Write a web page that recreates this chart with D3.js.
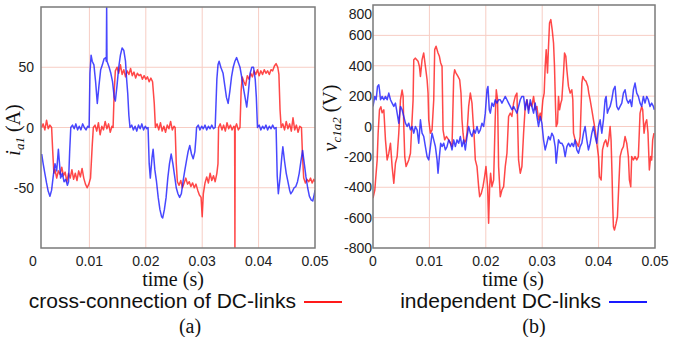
<!DOCTYPE html>
<html>
<head>
<meta charset="utf-8">
<script src="https://cdn.jsdelivr.net/npm/d3@7"></script>
<style>
  body { margin: 0; background: #fff; }
  svg { display: block; }
</style>
</head>
<body>
<div id="chart"></div>
<script>
// two panels: phase current i_a1 and capacitor voltage difference v_c1a2, 0 - 0.05 s
// samples are [time in ms, value]

const timeTicks = [0, 0.01, 0.02, 0.03, 0.04, 0.05];
const currentTicks = [-50, 0, 50];
const voltageTicks = [-800, -600, -400, -200, 0, 200, 400, 600, 800];
const seriesNames = ["cross-connection of DC-links", "independent DC-links"];

// (a) i_a1, cross-connection of DC-links (red)
const iaCross = [
  [1.54,0],[1.8,3],[2.1,-2],[2.4,6],[2.7,-1],[3.0,2],[3.3,0],[3.5,-20],[3.7,-38],[3.9,-35],
  [4.2,-42],[4.5,-36],[4.8,-39],[5.1,-33],[5.4,-40],[5.7,-37],[6.0,-45],[6.3,-38],[6.6,-42],[6.9,-35],
  [7.2,-43],[7.5,-38],[7.8,-44],[8.1,-36],[8.4,-41],[8.7,-34],[9.0,-42],[9.3,-47],[9.6,-50],[9.9,-47],
  [10.2,-42],[10.5,-15],[10.7,0],[11.0,2],[11.3,-3],[11.6,4],[11.9,-6],[12.2,1],[12.5,-2],[12.8,5],
  [13.1,-1],[13.4,3],[13.7,-4],[14.0,1],[14.2,0],[14.4,30],[14.6,47],[14.9,50],[15.2,45],[15.5,52],
  [15.8,44],[16.1,48],[16.4,42],[16.7,47],[17.0,44],[17.3,49],[17.6,43],[17.9,46],[18.2,41],[18.5,45],
  [18.8,43],[19.1,44],[19.4,40],[19.7,43],[20.0,40],[20.3,42],[20.6,38],[20.9,41],[21.2,38],[21.5,20],
  [21.7,0],[22.0,3],[22.3,-2],[22.6,4],[22.9,-3],[23.2,1],[23.5,-4],[23.8,2],[24.1,-1],[24.4,5],
  [24.7,-2],[25.0,1],[25.2,0],[25.4,-30],[25.6,-45],[25.9,-48],[26.2,-44],[26.5,-50],[26.8,-46],[27.1,-42],
  [27.4,-47],[27.7,-45],[28.0,-49],[28.3,-46],[28.6,-50],[28.9,-47],[29.2,-52],[29.5,-56],[29.8,-58],[30.0,-74],
  [30.2,-55],[30.5,-46],[30.8,-41],[31.1,-46],[31.4,-38],[31.7,-44],[32.0,-40],[32.3,-45],[32.6,-38],[32.8,-30],
  [32.9,0],[33.2,3],[33.5,-2],[33.8,2],[34.1,-3],[34.4,4],[34.7,-1],[35.0,2],[35.3,-2],[35.6,1],
  [35.75,0],[35.8,-100],[35.85,0],[36.1,3],[36.4,-2],[36.7,0],[36.9,30],[37.1,42],[37.4,38],[37.7,35],
  [38.0,43],[38.3,40],[38.6,45],[38.9,42],[39.2,47],[39.5,44],[39.8,48],[40.1,43],[40.4,47],[40.7,44],
  [41.0,48],[41.3,45],[41.6,47],[41.9,44],[42.2,48],[42.5,47],[42.8,51],[43.1,53],[43.4,50],[43.6,44],
  [43.8,15],[44.0,0],[44.3,3],[44.6,-2],[44.9,5],[45.2,-1],[45.5,3],[45.8,-3],[46.1,8],[46.4,-2],
  [46.7,2],[47.0,-4],[47.3,1],[47.6,0],[47.8,-25],[48.0,-42],[48.3,-46],[48.6,-43],[48.9,-45],[49.2,-42],
  [49.5,-46],[49.8,-43],[50.0,-45]
];

// (a) i_a1, independent DC-links (blue)
const iaIndep = [
  [1.54,-22],[1.8,-30],[2.1,-38],[2.4,-46],[2.7,-53],[3.0,-57],[3.3,-52],[3.6,-40],[3.9,-30],[4.2,-36],
  [4.5,-18],[4.7,-30],[4.9,-42],[5.2,-38],[5.5,-45],[5.8,-43],[6.1,-48],[6.3,-45],[6.5,-20],[6.7,0],
  [7.0,2],[7.3,-1],[7.6,3],[7.9,-2],[8.2,1],[8.5,-2],[8.8,3],[9.1,0],[9.4,-2],[9.7,1],
  [9.95,0],[10.1,45],[10.3,60],[10.5,55],[10.8,52],[11.1,38],[11.4,20],[11.7,35],[12.0,48],[12.3,52],
  [12.6,57],[12.9,58],[13.0,55],[13.06,100],[13.12,55],[13.5,50],[13.8,45],[14.1,38],[14.4,25],[14.6,22],
  [14.9,35],[15.2,50],[15.5,60],[15.8,66],[16.1,64],[16.4,55],[16.6,40],[16.8,28],[17.0,10],[17.2,0],
  [17.5,2],[17.8,-2],[18.1,1],[18.4,-3],[18.7,2],[19.0,-1],[19.3,3],[19.6,-2],[19.9,1],[20.2,-1],
  [20.4,0],[20.6,-30],[20.8,-42],[21.1,-25],[21.3,-18],[21.6,-35],[21.9,-45],[22.2,-58],[22.5,-68],[22.8,-74],
  [23.0,-75],[23.3,-68],[23.6,-58],[23.9,-42],[24.2,-30],[24.5,-22],[24.8,-30],[25.1,-40],[25.4,-50],[25.7,-55],
  [26.0,-58],[26.3,-55],[26.6,-45],[26.9,-36],[27.2,-28],[27.5,-20],[27.8,-15],[28.1,-22],[28.4,-26],[28.7,-20],
  [28.9,-8],[29.0,0],[29.3,2],[29.6,-2],[29.9,1],[30.2,-1],[30.5,2],[30.8,-2],[31.1,1],[31.4,-1],
  [31.7,2],[32.0,-1],[32.3,0],[32.6,40],[32.8,52],[33.0,55],[33.3,50],[33.7,45],[34.0,35],[34.3,25],
  [34.6,20],[34.9,30],[35.2,42],[35.5,50],[35.8,55],[36.1,58],[36.4,54],[36.7,50],[37.0,42],[37.3,33],
  [37.6,25],[37.9,17],[38.2,30],[38.5,45],[38.8,50],[39.1,50],[39.4,40],[39.6,25],[39.8,0],[40.1,2],
  [40.4,-2],[40.7,1],[41.0,-1],[41.3,2],[41.6,-2],[41.9,1],[42.2,-1],[42.5,2],[42.8,-1],[43.1,0],
  [43.3,-40],[43.5,-55],[43.8,-42],[44.1,-25],[44.3,-16],[44.6,-28],[44.9,-38],[45.2,-45],[45.5,-52],[45.7,-55],
  [46.0,-53],[46.3,-50],[46.6,-49],[46.9,-45],[47.2,-38],[47.5,-28],[47.8,-19],[48.1,-30],[48.4,-41],[48.7,-50],
  [49.0,-57],[49.3,-60],[49.6,-61],[49.9,-55],[50.0,-52]
];

// (b) v_c1a2, cross-connection of DC-links (red)
const vcCross = [
  [0,-472],[0.32,-418],[0.74,-220],[0.91,-44],[1.15,110],[1.39,130],[1.62,90],[1.92,110],[2.21,-88],[2.51,-220],
  [2.8,-176],[3.1,-110],[3.39,-264],[3.69,-374],[3.98,-242],[4.28,-198],[4.57,-44],[4.87,176],[5.16,240],[5.34,198],
  [5.46,0],[5.63,-198],[5.87,-264],[6.34,-220],[6.64,-176],[6.93,44],[7.11,176],[7.23,440],[7.52,450],[7.99,430],
  [8.23,396],[8.41,330],[8.7,440],[8.99,484],[9.29,396],[9.59,308],[9.76,220],[9.88,44],[10.18,-44],[10.47,-22],
  [10.77,176],[10.94,506],[11.18,528],[11.53,484],[11.77,462],[12.0,418],[12.24,396],[12.42,-22],[12.71,-88],[13.01,-66],
  [13.42,-88],[13.72,-110],[14.01,-132],[14.31,330],[14.48,374],[14.72,352],[15.07,330],[15.37,308],[15.6,220],[15.78,44],
  [15.96,-44],[16.19,-110],[16.49,-88],[16.67,-44],[16.96,132],[17.26,220],[17.55,154],[17.73,44],[17.91,-44],[18.14,-220],
  [18.44,-264],[18.73,-396],[18.91,-462],[19.2,-440],[19.5,-396],[19.79,-330],[20.03,-264],[20.32,-396],[20.5,-637],[20.68,-396],
  [20.85,-308],[21.09,-396],[21.39,-352],[21.68,66],[21.86,242],[22.09,176],[22.27,-264],[22.57,-462],[22.86,-418],[23.16,-396],
  [23.45,-264],[23.75,-176],[24.04,66],[24.34,88],[24.63,66],[24.93,154],[25.22,198],[25.52,220],[25.81,-220],[26.11,-308],
  [26.4,-264],[26.7,-44],[26.99,132],[27.29,176],[27.58,110],[27.88,154],[28.17,132],[28.47,198],[28.76,110],[29.06,132],
  [29.35,44],[29.65,88],[29.82,44],[30.12,176],[30.35,220],[30.53,396],[30.71,506],[30.94,352],[31.12,528],[31.3,682],
  [31.53,704],[31.77,638],[32.01,550],[32.18,396],[32.36,132],[32.48,0],[32.71,22],[32.89,198],[33.07,110],[33.3,154],
  [33.48,176],[33.78,352],[33.96,484],[34.19,462],[34.37,374],[34.66,264],[34.96,220],[35.25,242],[35.43,176],[35.55,-44],
  [35.84,-88],[36.14,-110],[36.43,-132],[36.73,-66],[37.03,286],[37.2,330],[37.49,308],[37.79,297],[38.09,264],[38.26,220],
  [38.5,176],[38.8,110],[39.09,44],[39.39,-22],[39.68,-110],[39.98,-198],[40.15,-330],[40.45,-352],[40.69,-154],[40.97,-110],
  [41.27,-88],[41.56,-132],[41.8,-88],[42.04,0],[42.21,-88],[42.39,-330],[42.51,-528],[42.63,-660],[42.81,-682],[43.1,-638],
  [43.34,-594],[43.57,-396],[43.81,-198],[44.11,-154],[44.4,-132],[44.69,-66],[44.99,-110],[45.28,-198],[45.46,-352],[45.7,-396],
  [45.87,-198],[46.17,-220],[46.46,-198],[46.76,-220],[47.05,-198],[47.35,88],[47.64,132],[47.82,110],[48.06,-44],[48.29,22],
  [48.53,44],[48.76,-44],[49.0,-286],[49.23,-198],[49.41,-220],[49.59,-88],[49.82,-44]
];

// (b) v_c1a2, independent DC-links (blue)
const vcIndep = [
  [0,132],[0.32,198],[0.56,176],[0.8,264],[1.03,275],[1.15,242],[1.33,176],[1.62,198],[1.92,176],[2.21,198],
  [2.51,176],[2.8,220],[3.1,176],[3.39,154],[3.69,132],[3.98,154],[4.28,88],[4.57,22],[4.87,132],[5.16,110],
  [5.46,66],[5.75,22],[6.05,0],[6.34,22],[6.64,-22],[6.93,0],[7.23,-44],[7.52,0],[7.82,-22],[8.11,-110],
  [8.41,44],[8.7,-44],[9.0,-66],[9.29,-132],[9.59,-198],[9.88,-220],[10.18,-132],[10.47,-44],[10.77,-88],[11.06,-132],
  [11.36,-220],[11.53,-308],[11.77,-198],[12.0,-110],[12.24,-132],[12.54,-110],[12.83,-154],[13.13,-132],[13.42,-88],[13.72,-110],
  [14.01,-154],[14.31,-88],[14.6,-132],[14.9,-88],[15.19,-110],[15.49,-66],[15.78,-132],[16.08,-88],[16.37,-154],[16.67,-66],
  [16.96,0],[17.26,-44],[17.55,-66],[17.85,-22],[18.14,-44],[18.44,0],[18.73,-44],[19.03,-22],[19.32,22],[19.62,0],
  [19.91,88],[20.21,242],[20.38,264],[20.62,110],[20.8,88],[21.09,154],[21.39,132],[21.68,176],[21.98,154],[22.27,176],
  [22.57,176],[22.86,154],[23.16,176],[23.45,198],[23.75,176],[24.04,154],[24.34,132],[24.63,110],[24.93,132],[25.22,110],
  [25.52,88],[25.81,132],[26.11,176],[26.4,198],[26.7,198],[26.99,110],[27.29,176],[27.58,88],[27.88,176],[28.17,132],
  [28.47,88],[28.76,154],[29.06,66],[29.35,0],[29.65,66],[29.94,22],[30.24,-88],[30.53,-154],[30.83,-110],[31.12,-66],
  [31.42,-88],[31.71,-44],[32.01,-66],[32.3,-132],[32.48,-242],[32.71,-154],[32.89,-88],[33.19,-110],[33.48,-110],[33.78,-132],
  [34.07,-198],[34.37,-132],[34.66,-110],[34.96,-132],[35.25,-110],[35.55,-132],[35.84,-88],[36.14,-154],[36.43,-176],[36.73,-132],
  [37.03,-110],[37.32,-44],[37.61,0],[37.91,-88],[38.2,-154],[38.5,-110],[38.8,-44],[39.09,0],[39.39,-66],[39.68,-110],
  [39.98,0],[40.27,44],[40.57,-44],[40.86,44],[41.15,176],[41.33,198],[41.56,88],[41.74,110],[42.04,132],[42.33,176],
  [42.63,242],[42.92,264],[43.22,132],[43.51,110],[43.81,132],[44.11,154],[44.4,220],[44.69,242],[44.99,176],[45.28,154],
  [45.58,176],[45.87,132],[46.17,242],[46.46,286],[46.76,220],[47.05,198],[47.35,154],[47.64,132],[47.94,198],[48.23,154],
  [48.53,198],[48.82,176],[49.12,132],[49.41,154],[49.71,132],[49.88,110]
];

function drawCharts() {
    const W = 678, H = 337;
    const redColor = "#ff1a1a", blueColor = "#1a1aff";
    const gridColor = "#f7cdc4";

    const svg = d3.select("#chart").append("svg")
        .attr("width", W)
        .attr("height", H);

    // one panel = frame, grid, tick labels, two traces
    function panel(opts) {
        const x = d3.scaleLinear().domain([0, 0.05]).range(opts.xRange);
        const y = d3.scaleLinear().domain(opts.yDomain).range(opts.yRange);
        const left = opts.frameLeft, right = opts.xRange[1];
        const top = opts.yRange[1], bottom = opts.yRange[0];
        const g = svg.append("g");

        // grid
        g.selectAll(".vgrid").data(timeTicks.slice(1, -1)).enter().append("line")
            .attr("x1", d => x(d)).attr("x2", d => x(d))
            .attr("y1", top).attr("y2", bottom)
            .attr("stroke", gridColor).attr("stroke-width", 1);
        g.selectAll(".hgrid").data(opts.gridValues).enter().append("line")
            .attr("x1", left).attr("x2", right)
            .attr("y1", d => y(d)).attr("y2", d => y(d))
            .attr("stroke", gridColor).attr("stroke-width", 1);

        // traces
        const clipId = opts.id + "-clip";
        g.append("clipPath").attr("id", clipId).append("rect")
            .attr("x", left).attr("y", top)
            .attr("width", right - left).attr("height", bottom - top);

        const line = d3.line()
            .x(d => x(d[0] / 1000))
            .y(d => y(d[1]));

        g.append("path").datum(opts.red)
            .attr("clip-path", `url(#${clipId})`)
            .attr("fill", "none").attr("stroke", redColor)
            .attr("stroke-width", 1.5).attr("stroke-opacity", 0.8)
            .attr("stroke-linejoin", "round")
            .attr("d", line);
        g.append("path").datum(opts.blue)
            .attr("clip-path", `url(#${clipId})`)
            .attr("fill", "none").attr("stroke", blueColor)
            .attr("stroke-width", 1.5).attr("stroke-opacity", 0.8)
            .attr("stroke-linejoin", "round")
            .attr("d", line);

        // frame
        g.append("rect")
            .attr("x", left).attr("y", top)
            .attr("width", right - left).attr("height", bottom - top)
            .attr("fill", "none").attr("stroke", "#7a7a7a").attr("stroke-width", 1.5);

        // tick labels
        g.selectAll(".xt").data(timeTicks).enter().append("text")
            .attr("x", d => x(d)).attr("y", 266)
            .attr("text-anchor", "middle")
            .attr("font-family", "Liberation Sans, Arial, sans-serif")
            .attr("font-size", 14).attr("fill", "#222")
            .text(d => d === 0 ? "0" : d3.format(".2f")(d));
        g.selectAll(".yt").data(opts.yTicks).enter().append("text")
            .attr("x", opts.yLabelX).attr("y", d => Math.max(y(d) + 5, 19))
            .attr("text-anchor", "end")
            .attr("font-family", "Liberation Sans, Arial, sans-serif")
            .attr("font-size", 14).attr("fill", "#222")
            .text(d => d);

        // axis titles
        g.append("text")
            .attr("x", (opts.xRange[0] + right) / 2 - 1).attr("y", 286)
            .attr("text-anchor", "middle")
            .attr("font-family", "Liberation Serif, Times New Roman, serif")
            .attr("font-size", 20).attr("fill", "#111")
            .text("time (s)");

        const yt = g.append("text")
            .attr("transform", `translate(${opts.titleX},${opts.titleY}) rotate(-90)`)
            .attr("text-anchor", "middle")
            .attr("font-family", "Liberation Serif, Times New Roman, serif")
            .attr("font-size", 20).attr("fill", "#111");
        yt.append("tspan").attr("font-style", "italic").text(opts.symbol);
        yt.append("tspan").attr("font-style", "italic").attr("font-size", 13)
            .attr("dy", 4).text(opts.sub);
        yt.append("tspan").attr("dy", -4).text(" (" + opts.unit + ")");

        // legend
        g.append("text")
            .attr("x", opts.legendX).attr("y", 308)
            .attr("text-anchor", "end")
            .attr("font-family", "Liberation Sans, Arial, sans-serif")
            .attr("font-size", 21).attr("fill", "#111")
            .text(opts.legendText);
        g.append("line")
            .attr("x1", opts.legendX + 8).attr("x2", opts.legendX + 46)
            .attr("y1", 302).attr("y2", 302)
            .attr("stroke", opts.legendColor).attr("stroke-width", 2.2);

        // caption
        g.append("text")
            .attr("x", opts.captionX).attr("y", 333)
            .attr("text-anchor", "middle")
            .attr("font-family", "Liberation Serif, Times New Roman, serif")
            .attr("font-size", 20).attr("fill", "#111")
            .text(opts.caption);
    }

    panel({
        id: "pa", red: iaCross, blue: iaIndep,
        xRange: [33, 315], frameLeft: 41,
        yDomain: [-100, 100], yRange: [248, 7],
        yTicks: currentTicks, gridValues: currentTicks, yLabelX: 34,
        titleX: 20, titleY: 130, symbol: "i", sub: "a1", unit: "A",
        legendX: 296, legendText: seriesNames[0], legendColor: redColor,
        captionX: 190, caption: "(a)"
    });

    panel({
        id: "pb", red: vcCross, blue: vcIndep,
        xRange: [373, 655], frameLeft: 373,
        yDomain: [-800, 800], yRange: [248, 5],
        yTicks: voltageTicks, gridValues: voltageTicks.slice(1, -1), yLabelX: 372,
        titleX: 337, titleY: 118, symbol: "v", sub: "c1a2", unit: "V",
        legendX: 601, legendText: seriesNames[1], legendColor: blueColor,
        captionX: 534, caption: "(b)"
    });
}

document.addEventListener("DOMContentLoaded", drawCharts);
</script>
</body>
</html>
